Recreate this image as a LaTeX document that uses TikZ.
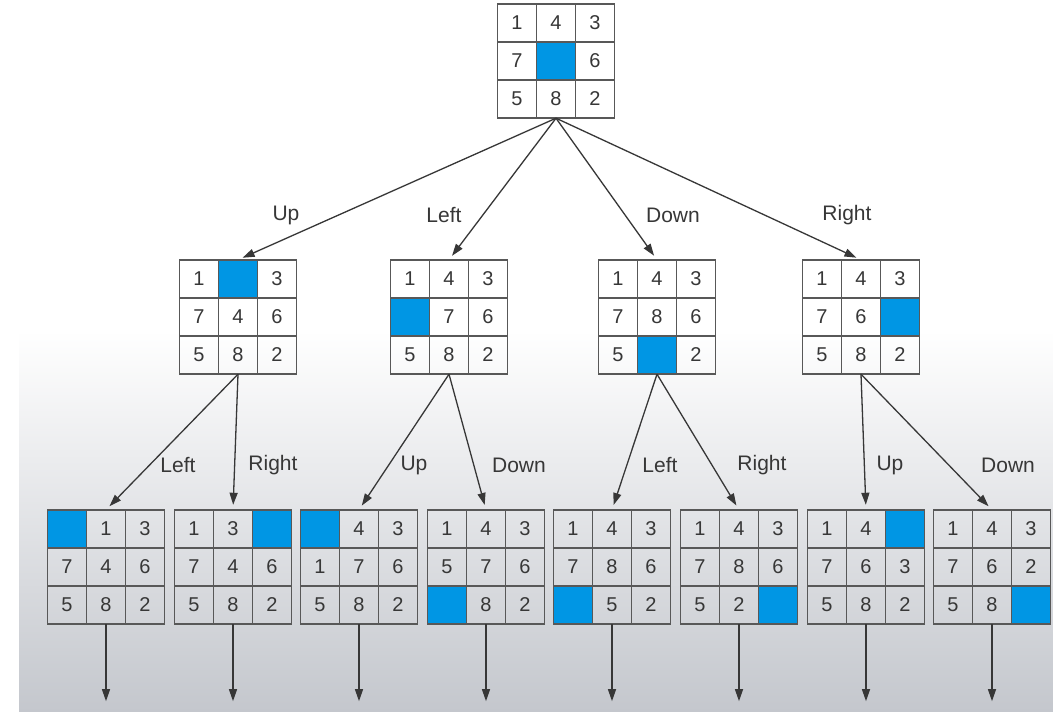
\documentclass[tikz,border=0pt]{standalone}
\usepackage{fontspec}
\setmainfont{Liberation Sans}
\usetikzlibrary{arrows.meta}

\definecolor{tileblue}{RGB}{0,150,228}
\definecolor{gridgray}{RGB}{88,88,88}
\definecolor{inkgray}{RGB}{55,55,55}
\definecolor{fadegray}{RGB}{196,199,205}

\tikzset{
  board/.style={rectangle,minimum width=117pt,minimum height=114pt,inner sep=0pt},
  cell/.style={rectangle,draw=gridgray,line width=1.4pt,minimum width=39pt,minimum height=38pt,inner sep=0pt,text=inkgray,font=\fontsize{20}{20}\selectfont},
  hole/.style={cell,fill=tileblue},
  move/.style={->,draw=inkgray,line width=1.3pt,shorten >=5pt},
  lbl/.style={text=inkgray,font=\fontsize{21}{21}\selectfont}
}

% one 3x3 board: name, centre, tiles row by row (0 = blank)
\newcommand{\puzzle}[3]{%
  \node[board] (#1) at (#2) {};
  \begin{scope}[shift={(#1.center)}]
    \foreach \tile [count=\k from 0] in {#3} {
      \pgfmathtruncatemacro{\tcol}{mod(\k,3)}
      \pgfmathtruncatemacro{\trow}{div(\k,3)}
      \ifnum\tile=0
        \node[hole] (#1-\k) at ({(\tcol-1)*39},{(\trow-1)*38}) {};
      \else
        \node[cell] (#1-\k) at ({(\tcol-1)*39},{(\trow-1)*38}) {\tile};
      \fi
    }
  \end{scope}
}

\begin{document}
\begin{tikzpicture}[x=1pt,y=-1pt,>={Triangle[length=12pt,width=8pt]}]
\useasboundingbox (0,0) rectangle (1053,712);
\fill[white] (0,0) rectangle (1053,712);
\shade[top color=white,bottom color=fadegray] (19,330) rectangle (1053,712);

% start state
\puzzle{root}{556,61}{1,4,3,7,0,6,5,8,2}

% first moves
\puzzle{up}{238,317}{1,0,3,7,4,6,5,8,2}
\puzzle{left}{449,317}{1,4,3,0,7,6,5,8,2}
\puzzle{down}{657,317}{1,4,3,7,8,6,5,0,2}
\puzzle{right}{861,317}{1,4,3,7,6,0,5,8,2}

% second moves
\puzzle{upL}{106,567}{0,1,3,7,4,6,5,8,2}
\puzzle{upR}{233,567}{1,3,0,7,4,6,5,8,2}
\puzzle{leftU}{359,567}{0,4,3,1,7,6,5,8,2}
\puzzle{leftD}{486,567}{1,4,3,5,7,6,0,8,2}
\puzzle{downL}{612,567}{1,4,3,7,8,6,0,5,2}
\puzzle{downR}{739,567}{1,4,3,7,8,6,5,2,0}
\puzzle{rightU}{866,567}{1,4,0,7,6,3,5,8,2}
\puzzle{rightD}{992,567}{1,4,3,7,6,2,5,8,0}

\foreach \b in {up,left,down,right}
  \draw[move] (root.south) -- (\b.north);

\draw[move] (up.south) -- (upL.north);
\draw[move] (up.south) -- (upR.north);
\draw[move] (left.south) -- (leftU.north);
\draw[move] (left.south) -- (leftD.north);
\draw[move] (down.south) -- (downL.north);
\draw[move] (down.south) -- (downR.north);
\draw[move] (right.south) -- (rightU.north);
\draw[move] (right.south) -- (rightD.north);

% deeper levels continue below
\foreach \b in {upL,upR,leftU,leftD,downL,downR,rightU,rightD}
  \draw[move] (\b.south) -- ++(0,82);

% move labels
\node[lbl] (l-up) at (286,215) {Up};
\node[lbl] (l-left) at (444,215) {Left};
\node[lbl] (l-down) at (673,215) {Down};
\node[lbl] (l-right) at (847,215) {Right};

\node[lbl] (l-upL) at (178,465) {Left};
\node[lbl] (l-upR) at (273,465) {Right};
\node[lbl] (l-leftU) at (414,465) {Up};
\node[lbl] (l-leftD) at (519,465) {Down};
\node[lbl] (l-downL) at (660,465) {Left};
\node[lbl] (l-downR) at (762,465) {Right};
\node[lbl] (l-rightU) at (890,465) {Up};
\node[lbl] (l-rightD) at (1008,465) {Down};
\end{tikzpicture}
\end{document}
